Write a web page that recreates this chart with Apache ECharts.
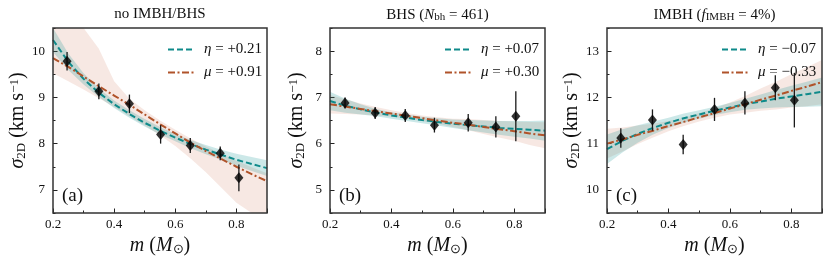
<!DOCTYPE html>
<html><head><meta charset="utf-8">
<script src="https://cdn.jsdelivr.net/npm/echarts@6/dist/echarts.min.js"></script>
<style>html,body{margin:0;padding:0;background:#fff}#c{width:831px;height:264px}</style>
</head><body><div id="c"></div>
<script>
// ---------- data ----------
const modelMass = [0.2,0.25,0.3,0.35,0.4,0.45,0.5,0.55,0.6,0.65,0.7,0.75,0.8,0.85,0.9];

// panel (a) no IMBH/BHS
const aEtaLine = [10.24,9.77,9.40,9.10,8.85,8.64,8.45,8.28,8.13,7.99,7.87,7.76,7.65,7.56,7.47];
const aEtaLo   = [9.98,9.59,9.28,9.01,8.77,8.56,8.37,8.20,8.05,7.90,7.77,7.65,7.52,7.41,7.30];
const aEtaHi   = [10.50,9.95,9.52,9.19,8.93,8.72,8.53,8.36,8.21,8.08,7.97,7.87,7.78,7.71,7.64];
const aMuLine  = [9.85,9.66,9.45,9.24,9.04,8.84,8.63,8.42,8.22,8.02,7.84,7.67,7.50,7.34,7.19];
const aMuLo    = [9.52,9.35,9.17,8.98,8.79,8.59,8.39,8.18,7.95,7.68,7.38,7.05,6.72,6.40,6.05];
const aMuHi    = [12.2,11.5,10.75,10.05,9.35,8.97,8.72,8.50,8.30,8.11,7.94,7.78,7.63,7.49,7.36];
const aMass    = [0.246,0.35,0.45,0.552,0.649,0.747,0.808];
const aSigma   = [9.78,9.13,8.86,8.20,7.96,7.79,7.26];
const aErr     = [0.20,0.17,0.20,0.20,0.16,0.15,0.29];

// panel (b) BHS
const bEtaLine = [6.92,6.82,6.74,6.67,6.61,6.56,6.51,6.47,6.43,6.40,6.37,6.34,6.32,6.30,6.28];
const bEtaLo   = [6.72,6.67,6.63,6.59,6.54,6.49,6.44,6.39,6.34,6.29,6.24,6.19,6.15,6.11,6.06];
const bEtaHi   = [7.12,6.97,6.85,6.75,6.68,6.63,6.58,6.55,6.52,6.51,6.50,6.49,6.49,6.49,6.50];
const bMuLine  = [6.85,6.80,6.75,6.70,6.65,6.60,6.55,6.50,6.45,6.41,6.36,6.31,6.27,6.22,6.18];
const bMuLo    = [6.65,6.64,6.63,6.61,6.58,6.54,6.49,6.43,6.36,6.29,6.21,6.13,6.06,5.97,5.90];
const bMuHi    = [7.05,6.96,6.87,6.79,6.72,6.66,6.61,6.57,6.54,6.53,6.51,6.49,6.48,6.47,6.46];
const bMass    = [0.249,0.347,0.445,0.540,0.650,0.740,0.805];
const bSigma   = [6.88,6.66,6.61,6.40,6.45,6.36,6.59];
const bErr     = [0.12,0.13,0.14,0.16,0.19,0.23,0.54];

// panel (c) IMBH
const cEtaLine = [10.88,11.06,11.21,11.34,11.45,11.55,11.63,11.71,11.78,11.85,11.91,11.97,12.02,12.07,12.12];
const cEtaLo   = [10.56,10.81,11.02,11.20,11.34,11.45,11.54,11.62,11.68,11.73,11.76,11.78,11.79,11.80,11.81];
const cEtaHi   = [11.20,11.31,11.40,11.48,11.56,11.65,11.72,11.80,11.88,11.97,12.06,12.16,12.25,12.34,12.43];
const cMuLine  = [11.00,11.09,11.19,11.28,11.38,11.47,11.57,11.66,11.76,11.85,11.95,12.04,12.14,12.23,12.33];
const cMuLo    = [10.68,10.83,10.99,11.13,11.27,11.38,11.48,11.56,11.63,11.67,11.71,11.74,11.78,11.81,11.85];
const cMuHi    = [11.32,11.35,11.39,11.43,11.49,11.56,11.66,11.76,11.89,12.03,12.19,12.34,12.50,12.65,12.81];
const cMass    = [0.245,0.348,0.448,0.550,0.649,0.748,0.810];
const cSigma   = [11.12,11.51,10.98,11.74,11.88,12.21,11.94];
const cErr     = [0.21,0.23,0.21,0.25,0.25,0.27,0.59];

const titles    = ['no IMBH/BHS', 'BHS ({i|N}{sub|bh} = 461)', 'IMBH ({i|f}{sub|IMBH} = 4%)'];
const panelTags = ['(a)', '(b)', '(c)'];
const etaLabels = ['+0.21', '+0.07', '\u22120.07'];
const muLabels  = ['+0.91', '+0.30', '\u22120.33'];
const yRanges   = [[6.5, 10.5], [4.5, 8.5], [9.5, 13.5]];
const yTicks    = [[7, 8, 9, 10], [5, 6, 7, 8], [10, 11, 12, 13]];
const xTicks    = [0.2, 0.4, 0.6, 0.8];

// ---------- styling ----------
const FONT = 'Liberation Serif';
const TEAL = '#0e8a8a';
const BROWN = '#b0532a';
const TEAL_BAND = 'rgba(0,139,139,0.20)';
const BROWN_BAND = 'rgba(200,100,70,0.15)';
const grids = [
  {left: 53, top: 28, width: 214, height: 185},
  {left: 330, top: 28, width: 215, height: 185},
  {left: 607, top: 28, width: 215, height: 185}
];

const panels = [
  {etaLine:aEtaLine, etaLo:aEtaLo, etaHi:aEtaHi, muLine:aMuLine, muLo:aMuLo, muHi:aMuHi, m:aMass, s:aSigma, e:aErr},
  {etaLine:bEtaLine, etaLo:bEtaLo, etaHi:bEtaHi, muLine:bMuLine, muLo:bMuLo, muHi:bMuHi, m:bMass, s:bSigma, e:bErr},
  {etaLine:cEtaLine, etaLo:cEtaLo, etaHi:cEtaHi, muLine:cMuLine, muLo:cMuLo, muHi:cMuHi, m:cMass, s:cSigma, e:cErr}
];

const NAME_SIZE = 20;
const rich = {
  i:   {fontFamily: FONT, fontStyle: 'italic', fontSize: NAME_SIZE, color: '#111'},
  sub: {fontFamily: FONT, fontSize: 13, color: '#111', verticalAlign: 'bottom', padding: [7, 0, 0, 0]},
  sup: {fontFamily: FONT, fontSize: 13, color: '#111', verticalAlign: 'top', padding: [0, 0, 7, 0]}
};

const xAxes = [], yAxes = [], series = [], legends = [], graphics = [];

function bandSeries(i, lo, hi, color) {
  return {
    type: 'custom', xAxisIndex: 2 * i, yAxisIndex: 2 * i, clip: true, silent: true, z: 1,
    data: [[modelMass[0], lo[0]]],
    renderItem: function (params, api) {
      const pts = [];
      for (let k = 0; k < modelMass.length; k++) pts.push(api.coord([modelMass[k], hi[k]]));
      for (let k = modelMass.length - 1; k >= 0; k--) pts.push(api.coord([modelMass[k], lo[k]]));
      const cs = params.coordSys;
      return {
        type: 'polygon',
        shape: {points: echarts.graphic.clipPointsByRect(pts, {x: cs.x, y: cs.y, width: cs.width, height: cs.height})},
        style: {fill: color}
      };
    }
  };
}

panels.forEach(function (p, i) {
  const tickLabelStyle = {fontFamily: FONT, fontSize: 13, color: '#111'};
  xAxes.push({
    type: 'value', gridIndex: i, position: 'bottom', min: 0.2, max: 0.9, interval: 0.1,
    axisLine: {show: false}, splitLine: {show: false},
    axisTick: {show: true, inside: true, length: 2.5, lineStyle: {color: '#222', width: 1}},
    axisLabel: Object.assign({margin: 5, showMaxLabel: true, showMinLabel: true, formatter: function (v) {
      const hit = xTicks.find(function (t) { return Math.abs(t - v) < 1e-6; });
      return hit === undefined ? '' : hit.toFixed(1);
    }}, tickLabelStyle),
    name: '{i|m} ({i|M}{sub|\u2299})', nameLocation: 'middle', nameGap: 21,
    nameTextStyle: {fontFamily: FONT, fontSize: NAME_SIZE, color: '#111', rich: rich}
  });
  xAxes.push({
    type: 'value', gridIndex: i, position: 'bottom', min: 0.2, max: 0.9, interval: 0.2,
    axisLine: {show: false}, splitLine: {show: false}, axisLabel: {show: false},
    axisTick: {show: true, inside: true, length: 4.5, lineStyle: {color: '#222', width: 1}}
  });
  yAxes.push({
    type: 'value', gridIndex: i, position: 'left', min: yRanges[i][0], max: yRanges[i][1], interval: 0.5,
    axisLine: {show: false}, splitLine: {show: false},
    axisTick: {show: true, inside: true, length: 2.5, lineStyle: {color: '#222', width: 1}},
    axisLabel: Object.assign({margin: 8, formatter: function (v) {
      return yTicks[i].indexOf(Math.round(v * 1000) / 1000) >= 0 ? String(Math.round(v)) : '';
    }}, tickLabelStyle),
    name: '{i|\u03c3}{sub|2D} (km s{sup|\u22121})', nameLocation: 'middle', nameGap: 23,
    nameTextStyle: {fontFamily: FONT, fontSize: NAME_SIZE, color: '#111', rich: rich}
  });
  yAxes.push({
    type: 'value', gridIndex: i, position: 'left', min: yRanges[i][0], max: yRanges[i][1], interval: 0.5,
    axisLine: {show: false}, splitLine: {show: false}, axisLabel: {show: false},
    axisTick: {show: true, inside: true, length: 4.5, customValues: yTicks[i], lineStyle: {color: '#222', width: 1}}
  });

  series.push(bandSeries(i, p.muLo, p.muHi, BROWN_BAND));
  series.push(bandSeries(i, p.etaLo, p.etaHi, TEAL_BAND));

  const etaName = 'eta' + i, muName = 'mu' + i;
  series.push({
    type: 'line', name: etaName, xAxisIndex: 2 * i, yAxisIndex: 2 * i, symbol: 'none', z: 3,
    data: modelMass.map(function (m, k) { return [m, p.etaLine[k]]; }),
    lineStyle: {color: TEAL, width: 2, type: [6, 3]}, itemStyle: {color: TEAL}
  });
  series.push({
    type: 'line', name: muName, xAxisIndex: 2 * i, yAxisIndex: 2 * i, symbol: 'none', z: 3,
    data: modelMass.map(function (m, k) { return [m, p.muLine[k]]; }),
    lineStyle: {color: BROWN, width: 2, type: [7, 2.5, 2, 2.5]}, itemStyle: {color: BROWN}
  });
  series.push({
    type: 'custom', xAxisIndex: 2 * i, yAxisIndex: 2 * i, z: 4, silent: true,
    data: p.m.map(function (m, k) { return [m, p.s[k], p.e[k]]; }),
    renderItem: function (params, api) {
      const x = api.value(0), y = api.value(1), e = api.value(2);
      const a = api.coord([x, y - e]), b = api.coord([x, y + e]);
      return {type: 'line', shape: {x1: a[0], y1: a[1], x2: b[0], y2: b[1]},
              style: {stroke: '#1a1a1a', lineWidth: 1.3}};
    }
  });
  series.push({
    type: 'scatter', xAxisIndex: 2 * i, yAxisIndex: 2 * i, z: 5, silent: true,
    symbol: 'diamond', symbolSize: [9, 11],
    data: p.m.map(function (m, k) { return [m, p.s[k]]; }),
    itemStyle: {color: '#000'}
  });

  const g = grids[i];
  legends.push({
    orient: 'vertical', left: g.left + 109, top: 37, itemWidth: 27, itemHeight: 14, itemGap: 8,
    data: [etaName, muName], selectedMode: false,
    itemStyle: {opacity: 0},
    textStyle: {fontFamily: FONT, fontSize: 15, color: '#111', padding: [0, 0, 0, 4],
      rich: {i: {fontFamily: FONT, fontStyle: 'italic', fontSize: 15, color: '#111'}}},
    formatter: function (name) {
      return name.indexOf('eta') === 0 ? '{i|\u03b7} = ' + etaLabels[i] : '{i|\u03bc} = ' + muLabels[i];
    }
  });

  graphics.push({
    type: 'text', x: g.left + g.width / 2, y: 7, silent: true,
    style: {text: titles[i], align: 'center', verticalAlign: 'top', fill: '#111',
      font: '15px "' + FONT + '"',
      rich: {
        i: {fontFamily: FONT, fontStyle: 'italic', fontSize: 15, fill: '#111'},
        sub: {fontFamily: FONT, fontSize: 11, fill: '#111', verticalAlign: 'bottom', padding: [5, 0, 0, 0]}
      }}
  });
  graphics.push({
    type: 'text', x: g.left + 9, y: 196, silent: true,
    style: {text: panelTags[i], align: 'left', verticalAlign: 'middle', fill: '#111', font: '19px "' + FONT + '"'}
  });
  graphics.push({
    type: 'rect', silent: true, z: 100,
    shape: {x: g.left, y: g.top, width: g.width, height: g.height},
    style: {fill: 'none', stroke: '#333', lineWidth: 1.5}
  });
});

const chart = echarts.init(document.getElementById('c'), null, {renderer: 'canvas'});
chart.setOption({
  animation: false,
  backgroundColor: '#fff',
  grid: grids.map(function (g) { return Object.assign({containLabel: false}, g); }),
  xAxis: xAxes,
  yAxis: yAxes,
  legend: legends,
  series: series,
  graphic: graphics
});
</script></body></html>
